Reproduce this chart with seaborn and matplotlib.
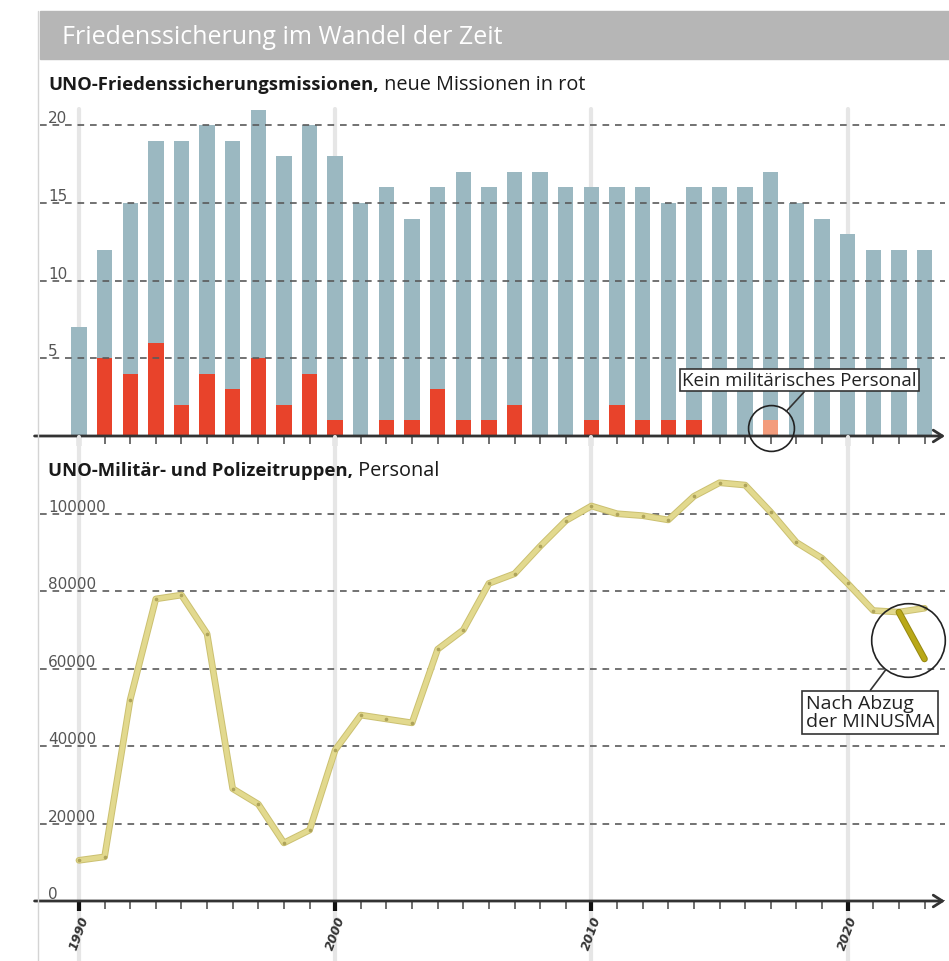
import matplotlib
matplotlib.use("Agg")
import matplotlib.pyplot as plt
import matplotlib.patheffects as pe
from matplotlib.patches import Rectangle
from matplotlib.lines import Line2D
import seaborn as sns

# ---- data ----
years = list(range(1990, 2024))
missions_total = [7, 12, 15, 19, 19, 20, 19, 21, 18, 20,
                  18, 15, 16, 14, 16, 17, 16, 17, 17, 16,
                  16, 16, 16, 15, 16, 16, 16, 17, 15, 14,
                  13, 12, 12, 12]
missions_new = [0, 5, 4, 6, 2, 4, 3, 5, 2, 4,
                1, 0, 1, 1, 3, 1, 1, 2, 0, 0,
                1, 2, 1, 1, 1, 0, 0, 0, 0, 0,
                0, 0, 0, 0]
# new mission without military personnel (2017)
missions_new_civil = [0, 0, 0, 0, 0, 0, 0, 0, 0, 0,
                      0, 0, 0, 0, 0, 0, 0, 0, 0, 0,
                      0, 0, 0, 0, 0, 0, 0, 1, 0, 0,
                      0, 0, 0, 0]
personnel = [10500, 11400, 52000, 78000, 79000, 69000, 29000, 25000, 15000, 18300,
             39000, 48000, 47000, 46000, 65000, 70000, 82000, 84500, 91600, 98200,
             102000, 100000, 99500, 98400, 104500, 108000, 107400, 100400, 92600, 88500,
             82000, 75000, 74600, 75600]
minusma_years = [2022, 2023]
minusma_personnel = [74600, 62500]

decades = [1990, 2000, 2010, 2020]
ticks_top = [5, 10, 15, 20]
ticks_bottom = [0, 20000, 40000, 60000, 80000, 100000]

BLUE = "#9bb8c1"
RED = "#e8432b"
ORANGE = "#f39c7c"
LINE = "#e2d98e"
LINE_EDGE = "#cbc070"
DARK_LINE = "#b9a818"
FONT = ["Open Sans", "DejaVu Sans"]

sns.set_theme(style="white")
plt.rcParams["font.family"] = FONT

W, H = 949, 962
fig = plt.figure(figsize=(W / 100, H / 100), dpi=100)


def fx(px):
    return px / W


def fy(py):
    return 1 - py / H


XMIN, XMAX = 1988.48, 2023.8

# title band
fig.add_artist(Rectangle((fx(40), fy(60)), 1 - fx(40), 48 / H,
                         transform=fig.transFigure, color="#b6b6b6", zorder=0))
fig.text(fx(62), fy(37), "Friedenssicherung im Wandel der Zeit", color="white",
         fontsize=18, va="center", ha="left")
fig.add_artist(Line2D([fx(38), fx(38)], [fy(12), 0], transform=fig.transFigure,
                      color="#d4d4d4", lw=1))

# subtitles: bold part, regular part follows after drawing
t1 = fig.text(fx(48), fy(90), "UNO-Friedenssicherungsmissionen,", fontsize=13.3,
              fontweight="bold", va="baseline", ha="left", color="#1a1a1a")
t2 = fig.text(fx(48), fy(476), "UNO-Militär- und Polizeitruppen,", fontsize=13.3,
              fontweight="bold", va="baseline", ha="left", color="#1a1a1a")

ax1 = fig.add_axes([fx(40), fy(437), fx(905), (437 - 103) / H])
ax2 = fig.add_axes([fx(40), fy(902), fx(905), (902 - 476) / H])
for ax in (ax1, ax2):
    ax.set_facecolor("none")

# ---- top: missions bars ----
bar_kw = dict(native_scale=True, width=0.6, saturation=1, errorbar=None,
              linewidth=0, edgecolor="none", zorder=1)
sns.barplot(x=years, y=missions_total, color=BLUE, ax=ax1, **bar_kw)
sns.barplot(x=years, y=missions_new, color=RED, ax=ax1, **bar_kw)
sns.barplot(x=years, y=missions_new_civil, color=ORANGE, ax=ax1, **bar_kw)
ax1.set_ylim(0, 21.5)

# ---- bottom: personnel line ----
sns.lineplot(x=years, y=personnel, ax=ax2, color=LINE, lw=3.4, zorder=4,
             path_effects=[pe.Stroke(linewidth=4.8, foreground=LINE_EDGE), pe.Normal()])
sns.scatterplot(x=years, y=personnel, ax=ax2, color="#aea35a", s=7, linewidth=0,
                zorder=5)
sns.lineplot(x=minusma_years, y=minusma_personnel, ax=ax2, color=DARK_LINE, lw=3.4,
             zorder=6, path_effects=[pe.Stroke(linewidth=4.8, foreground="#958711"), pe.Normal()])
ax2.set_ylim(0, 110000)

# ---- common axis styling ----
for ax, yt, vtop in ((ax1, ticks_top, (437 - 110) / 334), (ax2, ticks_bottom, (902 - 437) / 426.5)):
    ax.set_xlim(XMIN, XMAX)
    ax.set_xlabel("")
    ax.set_ylabel("")
    for s in ax.spines.values():
        s.set_visible(False)
    ax.set_yticks(yt)
    ax.set_yticklabels([str(v) for v in yt], family="DejaVu Sans")
    ax.tick_params(axis="y", length=0, pad=-6, labelsize=11, labelcolor="#555555")
    for lbl in ax.get_yticklabels():
        lbl.set_ha("left")
        lbl.set_va("bottom")
    ax.grid(axis="y", linestyle=(0, (4, 3.5)), color="#5a5a5a", lw=1.2)
    ax.grid(axis="x", visible=False)
    ax.set_axisbelow(False)
    ax.set_xticks(decades)
    ax.set_xticks(years, minor=True)
    ax.tick_params(axis="x", which="major", bottom=True, length=7, width=3,
                   color="#111111", direction="out")
    ax.tick_params(axis="x", which="minor", bottom=True, length=6, width=1.2,
                   color="#555555", direction="out")
    ymin = 0 if ax is ax1 else (902 - 962) / 426.5
    for d in decades:
        ax.axvline(d, ymin=ymin, ymax=vtop, color="#e6e6e6", lw=3, zorder=0, clip_on=False)
    ax.annotate("", xy=(1.0, 0), xytext=(-0.006, 0), xycoords="axes fraction",
                annotation_clip=False,
                arrowprops=dict(arrowstyle="->,head_length=0.55,head_width=0.35",
                                lw=2, color="#333333", shrinkA=0, shrinkB=0))

ax1.tick_params(axis="x", labelbottom=False)
ax2.set_xticklabels([str(d) for d in decades], rotation=70, ha="center", va="top",
                    fontsize=9, fontweight="bold", style="italic",
                    family="DejaVu Sans", color="#333333")
ax2.tick_params(axis="x", which="major", pad=2)

# ---- annotations ----
ax1.plot(2017, 0.5, marker="o", ms=33, mfc="none", mec="#222222", mew=1.2,
         clip_on=False, zorder=6)
ax1.annotate("Kein militärisches Personal", xy=(2017, 0.5), xytext=(2018.13, 3.6),
             ha="center", va="center", fontsize=13.5, color="#222222", zorder=7,
             bbox=dict(boxstyle="square,pad=0.12", fc="white", ec="#333333", lw=1.2),
             arrowprops=dict(arrowstyle="-", color="#333333", lw=1.2, relpos=(0.53, 0),
                             shrinkA=0, shrinkB=16.5))

ax2.plot(2022.35, 67300, marker="o", ms=53, mfc="none", mec="#222222", mew=1.2,
         clip_on=False, zorder=7)
ax2.annotate("Nach Abzug\nder MINUSMA", xy=(2022.35, 67300), xytext=(2020.87, 48750),
             ha="center", va="center", multialignment="left", fontsize=14,
             linespacing=1.0, color="#222222", zorder=7, annotation_clip=False,
             bbox=dict(boxstyle="square,pad=0.18", fc="white", ec="#333333", lw=1.2),
             arrowprops=dict(arrowstyle="-", color="#333333", lw=1.2, relpos=(0.48, 1),
                             shrinkA=0, shrinkB=26.5))

fig.canvas.draw()
# regular part of subtitles placed right after the bold part
for tb, rest, ypx in ((t1, " neue Missionen in rot", 90), (t2, " Personal", 476)):
    bb = tb.get_window_extent()
    fig.text(bb.x1 / W, fy(ypx), rest, fontsize=14.3,
             va="baseline", ha="left", color="#1a1a1a")

fig.savefig("out.png", dpi=100)
